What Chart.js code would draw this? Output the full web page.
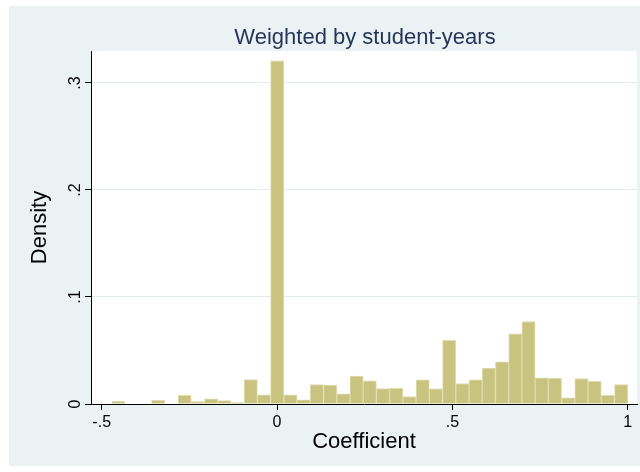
<!DOCTYPE html>
<html>
<head>
<meta charset="utf-8">
<script src="https://cdn.jsdelivr.net/npm/chart.js@4.4.1/dist/chart.umd.min.js"></script>
<style>
    body { margin: 0; background: #ffffff; }
    #wrap { width: 640px; height: 472px; }
</style>
</head>
<body>
<div id="wrap"><canvas id="hist-chart" width="640" height="472"></canvas></div>
<script>
// bin centres of the histogram (coefficient)
const binCenters = [
    -0.4521, -0.4144, -0.3767, -0.3390, -0.3013, -0.2635, -0.2258, -0.1881, -0.1504, -0.1127,
    -0.0749, -0.0372, 0.0005, 0.0382, 0.0759, 0.1137, 0.1514, 0.1891, 0.2268, 0.2645,
    0.3023, 0.3400, 0.3777, 0.4154, 0.4531, 0.4909, 0.5286, 0.5663, 0.6040, 0.6417,
    0.6795, 0.7172, 0.7549, 0.7926, 0.8303, 0.8681, 0.9058, 0.9435, 0.9812
];
// density per bin
const densities = [
    0.0025, 0, 0, 0.0035, 0, 0.0082, 0.0023, 0.0049, 0.0033, 0.0014,
    0.0229, 0.0086, 0.3208, 0.0086, 0.0039, 0.0182, 0.0176, 0.0095, 0.0260, 0.0217,
    0.0145, 0.0147, 0.0070, 0.0226, 0.0142, 0.0596, 0.0192, 0.0226, 0.0335, 0.0394,
    0.0656, 0.0771, 0.0245, 0.0241, 0.0058, 0.0238, 0.0213, 0.0082, 0.0182
];
const xTickValues = [-0.5, 0, 0.5, 1];
const xTickLabels = ['-.5', '0', '.5', '1'];
const yTickValues = [0, 0.1, 0.2, 0.3];
const yTickLabels = ['0', '.1', '.2', '.3'];

const chartTitle = 'Weighted by student-years';
const FONT = "'Liberation Sans', Arial, sans-serif";

// stata-like backgrounds, title and rotated y labels
const stataLook = {
    id: 'stataLook',
    beforeDraw(chart) {
        const ctx = chart.ctx;
        const area = chart.chartArea;
        ctx.save();
        ctx.fillStyle = '#ffffff';
        ctx.fillRect(0, 0, chart.width, chart.height);
        ctx.fillStyle = '#eaf2f3';
        ctx.fillRect(9, 6, chart.width - 9, 460);
        ctx.fillStyle = '#ffffff';
        ctx.fillRect(area.left, area.top, area.right - area.left, area.bottom - area.top);
        ctx.restore();
    },
    afterDraw(chart) {
        const ctx = chart.ctx;
        const yScale = chart.scales.y;
        ctx.save();
        ctx.fillStyle = '#26365a';
        ctx.font = '22px ' + FONT;
        ctx.textAlign = 'center';
        ctx.textBaseline = 'alphabetic';
        ctx.fillText(chartTitle, 365, 44);

        ctx.fillStyle = '#000000';
        ctx.font = '16px ' + FONT;
        yTickValues.forEach((v, i) => {
            const py = yScale.getPixelForValue(v);
            ctx.save();
            ctx.translate(80, py);
            ctx.rotate(-Math.PI / 2);
            ctx.fillText(yTickLabels[i], 0, 0);
            ctx.restore();
        });
        ctx.restore();
    }
};

const ctx = document.getElementById('hist-chart').getContext('2d');
new Chart(ctx, {
    type: 'bar',
    data: {
        datasets: [{
            label: 'Density',
            data: binCenters.map((c, i) => ({ x: c, y: densities[i] })),
            backgroundColor: '#c8c37f',
            borderColor: '#e0dcae',
            borderWidth: 1,
            borderSkipped: 'start',
            barPercentage: 1,
            categoryPercentage: 1
        }]
    },
    options: {
        responsive: false,
        animation: false,
        layout: { padding: { top: 51, right: 3, bottom: 0, left: 0 } },
        plugins: {
            legend: { display: false },
            tooltip: { enabled: false }
        },
        scales: {
            x: {
                type: 'linear',
                offset: false,
                min: -0.5305,
                max: 1.0265,
                afterBuildTicks: (scale) => { scale.ticks = xTickValues.map(v => ({ value: v })); },
                afterFit: (scale) => { scale.height = 68; },
                grid: { offset: false, drawOnChartArea: false, drawTicks: true, tickLength: 6, tickColor: '#000000' },
                border: { display: true, color: '#000000', width: 1 },
                ticks: {
                    color: '#000000',
                    font: { family: FONT, size: 16 },
                    padding: 3,
                    maxRotation: 0,
                    callback: (value) => xTickLabels[xTickValues.indexOf(value)]
                },
                title: {
                    display: true,
                    text: 'Coefficient',
                    color: '#000000',
                    font: { family: FONT, size: 22 },
                    padding: { top: 0, bottom: 17 }
                }
            },
            y: {
                min: 0,
                max: 0.3299,
                afterBuildTicks: (scale) => { scale.ticks = yTickValues.map(v => ({ value: v })); },
                afterFit: (scale) => { scale.width = 91; },
                grid: {
                    color: (c) => c.tick && c.tick.value === 0 ? 'rgba(0,0,0,0)' : '#e3ebee',
                    tickColor: '#000000',
                    tickLength: 6,
                    lineWidth: 1
                },
                border: { display: true, color: '#000000', width: 1 },
                ticks: { display: false },
                title: {
                    display: true,
                    text: 'Density',
                    color: '#000000',
                    font: { family: FONT, size: 22 },
                    padding: { top: 27, bottom: 0 }
                }
            }
        }
    },
    plugins: [stataLook]
});
</script>
</body>
</html>
